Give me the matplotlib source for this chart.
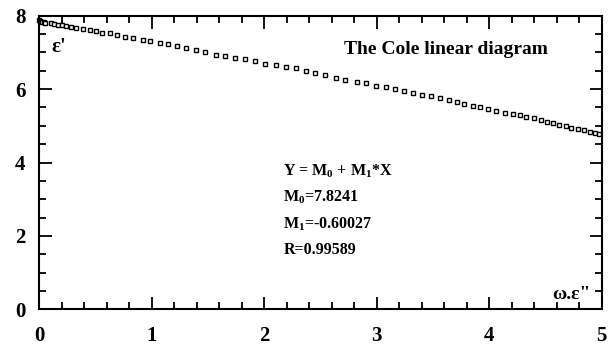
import matplotlib
matplotlib.use("Agg")
import matplotlib.pyplot as plt
from matplotlib.ticker import MultipleLocator

plt.rcParams["font.family"] = ["Liberation Serif", "DejaVu Serif"]
plt.rcParams["font.weight"] = "bold"
plt.rcParams["mathtext.fontset"] = "custom"
plt.rcParams["mathtext.default"] = "bf"
plt.rcParams["mathtext.bf"] = "Liberation Serif:bold"
plt.rcParams["mathtext.rm"] = "Liberation Serif:bold"

# omega.eps'' (x) against eps' (y)
w_eps2 = [0.00, 0.01, 0.02, 0.04, 0.05, 0.10, 0.13, 0.17, 0.20, 0.24,
          0.28, 0.33, 0.39, 0.45, 0.50, 0.56, 0.63, 0.69, 0.76, 0.83,
          0.92, 0.98, 1.07, 1.14, 1.22, 1.30, 1.39, 1.47, 1.57, 1.65,
          1.74, 1.83, 1.92, 2.01, 2.10, 2.19, 2.28, 2.37, 2.45, 2.54,
          2.64, 2.72, 2.82, 2.90, 2.99, 3.08, 3.16, 3.24, 3.32, 3.40,
          3.48, 3.56, 3.64, 3.71, 3.78, 3.86, 3.92, 3.99, 4.06, 4.14,
          4.21, 4.27, 4.33, 4.40, 4.46, 4.51, 4.57, 4.62, 4.68, 4.73,
          4.79, 4.84, 4.90, 4.94, 4.98]
eps1 = [7.87, 7.86, 7.84, 7.83, 7.81, 7.79, 7.77, 7.75, 7.74, 7.72,
        7.70, 7.67, 7.64, 7.61, 7.58, 7.54, 7.52, 7.47, 7.43, 7.40,
        7.35, 7.31, 7.27, 7.24, 7.17, 7.11, 7.07, 7.02, 6.94, 6.90,
        6.86, 6.81, 6.77, 6.68, 6.65, 6.61, 6.57, 6.48, 6.43, 6.39,
        6.29, 6.25, 6.20, 6.16, 6.08, 6.05, 6.00, 5.96, 5.89, 5.85,
        5.81, 5.76, 5.70, 5.66, 5.59, 5.55, 5.50, 5.45, 5.40, 5.36,
        5.32, 5.29, 5.25, 5.20, 5.16, 5.11, 5.07, 5.03, 4.99, 4.95,
        4.90, 4.89, 4.84, 4.80, 4.77]

fit_lines = ["Y = M$_0$ + M$_1$*X", "M$_0$=7.8241", "M$_1$=-0.60027", "R=0.99589"]
fit_y = [3.75, 3.05, 2.32, 1.62]

fig = plt.figure(figsize=(6.13, 3.5), dpi=100)
ax = fig.add_axes([0.0641, 0.1163, 0.9175, 0.8388])

ax.plot(w_eps2, eps1, linestyle="none", marker="s", markersize=3.4,
        markerfacecolor="white", markeredgecolor="black", markeredgewidth=1.0,
        clip_on=False)

ax.set_xlim(0, 5)
ax.set_ylim(0, 8)
ax.xaxis.set_major_locator(MultipleLocator(1))
ax.xaxis.set_minor_locator(MultipleLocator(0.2))
ax.yaxis.set_major_locator(MultipleLocator(2))
ax.yaxis.set_minor_locator(MultipleLocator(0.5))
ax.tick_params(which="both", direction="in", top=True, right=True, width=1.3)
ax.tick_params(which="major", length=9)
ax.tick_params(which="minor", length=5)
ax.tick_params(axis="x", which="major", pad=12, labelsize=15)
ax.tick_params(axis="y", which="major", pad=10, labelsize=15)
for lab in ax.get_xticklabels() + ax.get_yticklabels():
    lab.set_fontweight("bold")
for sp in ax.spines.values():
    sp.set_linewidth(1.5)

ax.text(0.17, 7.15, "ε'", fontsize=15, ha="center", va="center")
ax.text(4.73, 0.4, 'ω.ε"', fontsize=14, ha="center", va="center")
ax.text(3.615, 7.07, "The Cole linear diagram", fontsize=14,
        ha="center", va="center")
for line, y in zip(fit_lines, fit_y):
    ax.text(2.17, y, line, fontsize=11.5, ha="left", va="center")

fig.savefig("out.png", dpi=100)
